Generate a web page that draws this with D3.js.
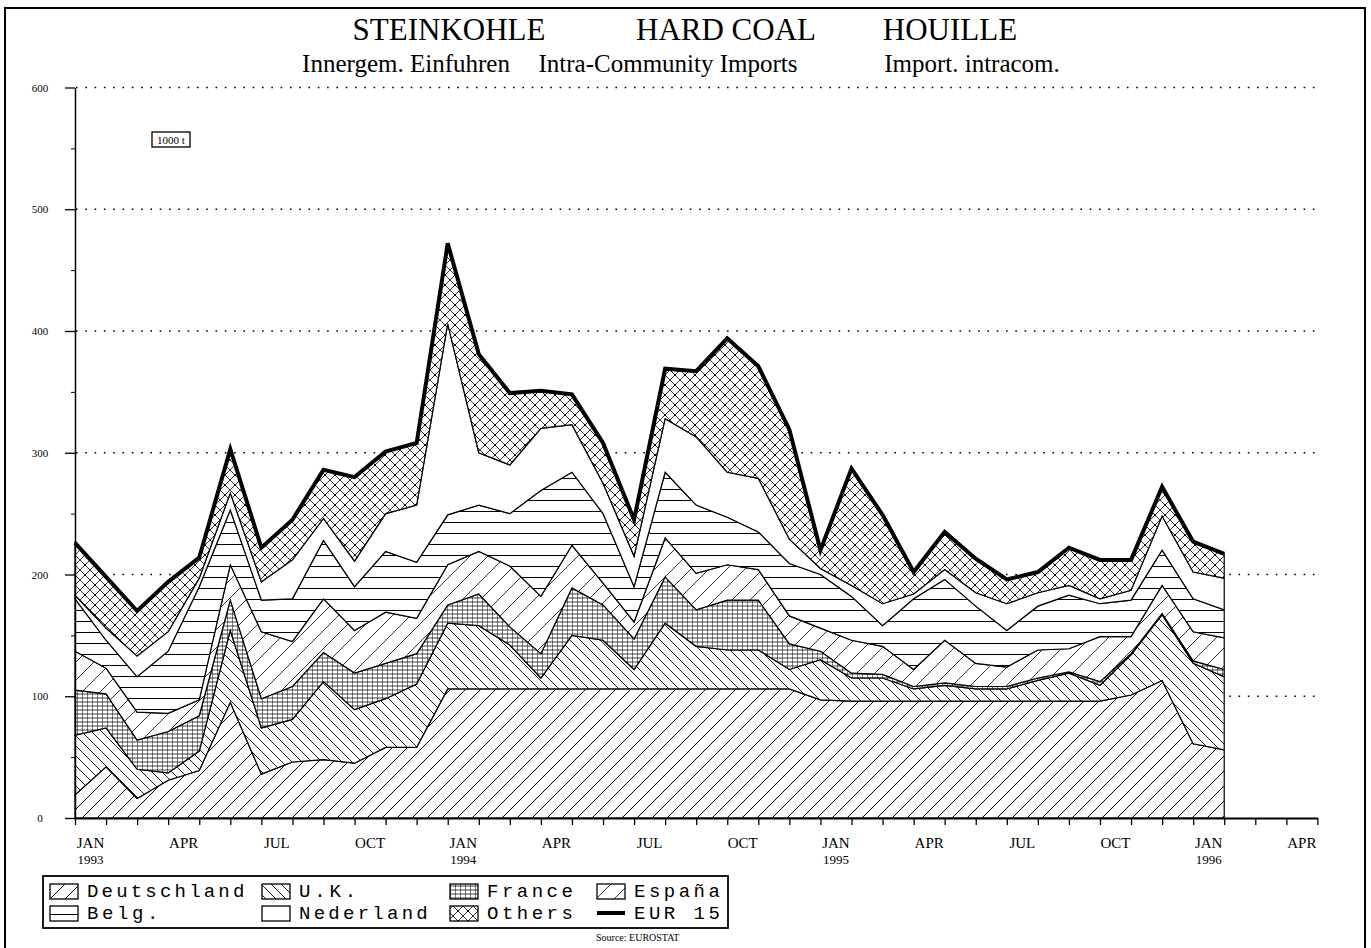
<!doctype html>
<html lang="en">
  <head>
    <meta charset="utf-8">
    <script src="https://cdnjs.cloudflare.com/ajax/libs/d3/7.8.5/d3.min.js"></script>
    <style>
      body {margin:0; background:white}
      svg {display:block}
      .serif {font-family:'Liberation Serif','Times New Roman',Times,serif}
      .mono {font-family:'Liberation Mono','Courier New',monospace}
    </style>
    <title>Steinkohle - Hard coal - Houille</title>
  </head>
  <body>
    <script>
      // months JAN 1993 .. FEB 1996, values in 1000 t
      const months = ["1993-01","1993-02","1993-03","1993-04","1993-05","1993-06","1993-07","1993-08","1993-09","1993-10","1993-11","1993-12",
                      "1994-01","1994-02","1994-03","1994-04","1994-05","1994-06","1994-07","1994-08","1994-09","1994-10","1994-11","1994-12",
                      "1995-01","1995-02","1995-03","1995-04","1995-05","1995-06","1995-07","1995-08","1995-09","1995-10","1995-11","1995-12",
                      "1996-01","1996-02"];
      const deutschland = [19,42,16,31,39,95,36,46,48,45,58,58, 106,106,106,106,106,106,106,106,106,106,106,106, 97,96,96,96,96,96,96,96,96,96,101,113, 61,56];
      const uk          = [49,32,24,6,16,59,38,35,64,44,40,52, 54,52,36,9,44,40,16,54,35,32,32,16, 33,19,19,10,13,10,10,17,23,13,33,54, 66,60];
      const france      = [37,28,24,34,29,25,24,27,24,30,29,25, 15,26,15,20,39,29,25,38,30,41,41,21, 7,4,3,2,2,2,2,2,1,3,1,1, 2,6];
      const espana      = [32,21,23,15,13,29,55,37,44,35,42,29, 33,35,50,47,35,18,14,32,30,29,25,23, 19,27,23,14,35,19,16,23,19,37,14,23, 24,26];
      const belg        = [43,23,29,51,93,45,26,35,48,36,50,46, 41,38,43,87,60,57,29,54,56,39,31,43, 44,36,17,58,50,47,30,36,44,27,30,29, 27,23];
      const nederland   = [3,10,17,16,7,14,15,32,18,21,31,47, 157,43,40,51,39,25,25,44,56,37,44,20, 5,9,18,4,8,11,22,11,8,4,8,28, 22,26];
      const others      = [43,42,37,41,17,36,28,33,40,69,51,51, 66,81,59,31,25,33,30,41,54,110,92,90, 15,96,73,18,31,28,20,17,31,32,25,24, 25,20];
      const eur15       = [226,198,170,194,214,303,222,245,286,280,301,308, 472,381,349,351,348,308,245,369,367,394,371,319, 220,287,249,202,235,213,196,202,222,212,212,272, 227,217];

      const seriesNames = ["Deutschland","U.K.","France","España","Belg.","Nederland","Others"];
      const seriesData = [deutschland, uk, france, espana, belg, nederland, others];

      // axis labels (quarters), placed in the middle of the month
      const axisMonths = ["JAN","APR","JUL","OCT","JAN","APR","JUL","OCT","JAN","APR","JUL","OCT","JAN","APR"];
      const axisYears  = ["1993","","","","1994","","","","1995","","","","1996",""];
      const yTicks = [0,100,200,300,400,500,600];

      let w = 1371, h = 948;
      let svg = d3.select("body").append("svg")
        .attr("width", w)
        .attr("height", h);

      // hatch patterns
      let defs = svg.append("defs");
      function pattern(id, pw, ph, paths){
        let p = defs.append("pattern")
          .attr("id", id)
          .attr("patternUnits", "userSpaceOnUse")
          .attr("width", pw)
          .attr("height", ph);
        p.append("rect").attr("width", pw).attr("height", ph).attr("fill", "white");
        paths.forEach(function(d){
          p.append("path")
            .attr("d", d[0])
            .attr("stroke", "black")
            .attr("stroke-width", d[1])
            .attr("fill", "none");
        });
        return p;
      }
      pattern("pD", 15, 15, [["M0,15 L15,0 M-2,2 L2,-2 M13,17 L17,13", 1]]);
      pattern("pUK", 10, 10, [["M0,0 L10,10 M-2,8 L2,12 M8,-2 L12,2", 0.9]]);
      pattern("pFR", 5, 4, [["M0,2 H5", 0.75], ["M2.5,0 V4", 0.5]]);
      pattern("pES", 18, 18, [["M0,18 L18,0 M-2,2 L2,-2 M16,20 L20,16", 0.8]]);
      pattern("pBE", 10, 11, [["M0,5.5 H10", 1]]);
      pattern("pNL", 10, 10, []);
      let pOT = pattern("pOT", 10, 10, [["M0,10 L10,0 M0,0 L10,10 M-2,2 L2,-2 M8,12 L12,8 M-2,8 L2,12 M8,-2 L12,2", 0.8]]);
      pOT.append("circle").attr("cx", 5).attr("cy", 5).attr("r", 1.1);
      const fills = ["url(#pD)","url(#pUK)","url(#pFR)","url(#pES)","url(#pBE)","url(#pNL)","url(#pOT)"];

      // outer frame
      svg.append("rect")
        .attr("x", 5).attr("y", 8)
        .attr("width", 1360).attr("height", 960)
        .attr("fill", "none")
        .attr("stroke", "black")
        .attr("stroke-width", 2);

      // titles
      let titles = [["STEINKOHLE",449],["HARD COAL",726],["HOUILLE",950]];
      titles.forEach(function(t){
        svg.append("text").attr("class","serif")
          .attr("x", t[1]).attr("y", 40)
          .attr("text-anchor","middle")
          .attr("font-size","31px")
          .text(t[0]);
      });
      let subtitles = [["Innergem. Einfuhren",406],["Intra-Community Imports",668],["Import. intracom.",972]];
      subtitles.forEach(function(t){
        svg.append("text").attr("class","serif")
          .attr("x", t[1]).attr("y", 72)
          .attr("text-anchor","middle")
          .attr("font-size","25px")
          .text(t[0]);
      });

      // scales
      let xScaling = d3.scaleLinear().domain([0, 40]).range([75, 1317.4]);
      let yScaling = d3.scaleLinear().domain([0, 600]).range([818, 87.5]);

      // dotted grid
      svg.append("g")
        .selectAll("line")
        .data(yTicks.slice(1))
        .enter()
        .append("line")
        .attr("x1", 76).attr("x2", 1320)
        .attr("y1", d => yScaling(d)).attr("y2", d => yScaling(d))
        .attr("stroke", "black")
        .attr("stroke-width", 1.6)
        .attr("stroke-dasharray", "1.6,7.7");

      // stacked areas
      let table = months.map(function(m, i){
        let row = {i: i};
        seriesNames.forEach((s, k) => row[s] = seriesData[k][i]);
        return row;
      });
      let stacked = d3.stack().keys(seriesNames)(table);

      let area = d3.area()
        .x(d => xScaling(d.data.i))
        .y0(d => yScaling(d[0]))
        .y1(d => yScaling(d[1]));

      svg.append("g")
        .selectAll("path")
        .data(stacked)
        .enter()
        .append("path")
        .attr("d", area)
        .attr("fill", (d, k) => fills[k])
        .attr("stroke", "black")
        .attr("stroke-width", 1.2)
        .attr("stroke-linejoin", "miter");

      // EUR 15 total
      let totalLine = d3.line()
        .x((d, i) => xScaling(i))
        .y(d => yScaling(d));
      svg.append("path")
        .datum(eur15)
        .attr("d", totalLine)
        .attr("fill", "none")
        .attr("stroke", "black")
        .attr("stroke-width", 4)
        .attr("stroke-linejoin", "miter");

      // y axis
      let yAxisG = svg.append("g")
        .attr("transform", "translate(75,0)")
        .call(d3.axisLeft(yScaling).tickValues(yTicks).tickSize(10).tickSizeOuter(0));
      yAxisG.select(".domain").attr("stroke-width", 1.5);
      yAxisG.selectAll(".tick line").attr("stroke-width", 1.3);
      yAxisG.selectAll(".tick text")
        .attr("class", "serif")
        .attr("x", -35)
        .attr("text-anchor", "middle")
        .attr("font-size", "11px");
      svg.append("g")
        .attr("transform", "translate(75,0)")
        .call(d3.axisLeft(yScaling).tickValues([50,150,250,350,450,550]).tickSize(4).tickFormat(""))
        .select(".domain").remove();

      // x axis
      let xAxisG = svg.append("g")
        .attr("transform", "translate(0,818)")
        .call(d3.axisBottom(xScaling).tickValues(d3.range(41)).tickSize(7).tickSizeOuter(0).tickFormat(""));
      xAxisG.select(".domain").attr("stroke-width", 2.2);
      xAxisG.selectAll(".tick line").attr("stroke-width", 1.3);

      axisMonths.forEach(function(m, k){
        svg.append("text").attr("class","serif")
          .attr("x", xScaling(k*3 + 0.5)).attr("y", 848)
          .attr("text-anchor","middle")
          .attr("font-size","15px")
          .text(m);
        if (axisYears[k] != "") {
          svg.append("text").attr("class","serif")
            .attr("x", xScaling(k*3 + 0.5)).attr("y", 864)
            .attr("text-anchor","middle")
            .attr("font-size","13px")
            .text(axisYears[k]);
        }
      });

      // unit box
      svg.append("rect")
        .attr("x", 152).attr("y", 132)
        .attr("width", 38).attr("height", 15)
        .attr("fill", "none").attr("stroke", "black").attr("stroke-width", 1.3);
      svg.append("text").attr("class","serif")
        .attr("x", 171).attr("y", 144)
        .attr("text-anchor","middle")
        .attr("font-size","11px")
        .text("1000 t");

      // legend
      let legendGroup = svg.append("g").attr("transform", "translate(43,876)");
      legendGroup.append("rect")
        .attr("width", 685).attr("height", 52)
        .attr("fill", "white").attr("stroke", "black").attr("stroke-width", 1.8);

      const legendCols = [7, 219, 407, 554];
      let legendItems = seriesNames.concat(["EUR 15"]);
      legendItems.forEach(function(name, k){
        let col = k % 4, row = Math.floor(k / 4);
        let lx = legendCols[col], ly = 8 + row * 22;
        if (name == "EUR 15") {
          legendGroup.append("line")
            .attr("x1", lx).attr("x2", lx + 28)
            .attr("y1", ly + 7).attr("y2", ly + 7)
            .attr("stroke", "black").attr("stroke-width", 4);
        } else {
          legendGroup.append("rect")
            .attr("x", lx).attr("y", ly)
            .attr("width", 28).attr("height", 15)
            .attr("fill", fills[k])
            .attr("stroke", "black").attr("stroke-width", 1.3);
        }
        legendGroup.append("text").attr("class","mono")
          .attr("x", lx + 37).attr("y", ly + 13)
          .attr("font-size", "19px")
          .attr("textLength", name.length * 14.3)
          .attr("lengthAdjust", "spacing")
          .text(name);
      });

      svg.append("text").attr("class","serif")
        .attr("x", 596).attr("y", 941)
        .attr("font-size","10px")
        .text("Source: EUROSTAT");
    </script>
  </body>
</html>
